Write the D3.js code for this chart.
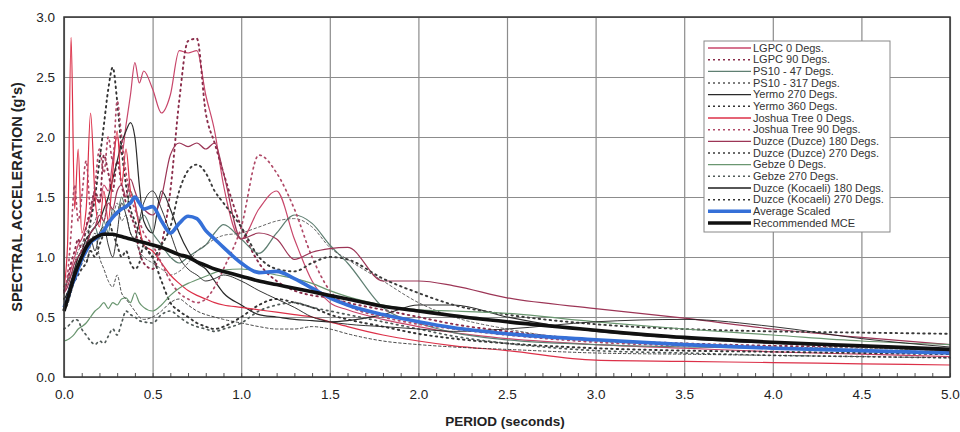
<!DOCTYPE html>
<html>
<head>
<meta charset="utf-8">
<script src="https://cdn.jsdelivr.net/npm/d3@7"></script>
<style>
  body { margin: 0; background: #fff; }
  svg { font-family: "Liberation Sans", Arial, sans-serif; }
</style>
</head>
<body>
<svg id="chart" width="960" height="432"></svg>
<script>
{
  const periods = [0, .02, .04, .06, .08, .1, .125, .15, .175, .2, .225, .25, .275, .3, .325,
    .35, .375, .4, .425, .45, .5, .55, .6, .65, .7, .75, .8, .85, .9, 1.0,
    1.1, 1.2, 1.3, 1.4, 1.5, 1.6, 1.8, 2.0, 2.2, 2.5, 3.0, 3.5, 4.0, 4.5, 5.0];

  const xTicks = [0, 0.5, 1, 1.5, 2, 2.5, 3, 3.5, 4, 4.5, 5];
  const yTicks = [0, 0.5, 1, 1.5, 2, 2.5, 3];

  const lgpc0 = [0.70, 0.80, 0.90, 1.00, 1.10, 1.15, 1.25, 1.35, 1.50, 1.45,
    1.60, 1.55, 1.80, 2.00, 1.85, 2.10, 2.35, 2.62, 2.45, 2.55,
    2.40, 2.20, 2.35, 2.72, 2.70, 2.72, 2.35, 2.05, 1.60, 1.15,
    1.40, 1.55, 1.15, 0.80, 0.62, 0.56, 0.48, 0.42, 0.37, 0.32,
    0.27, 0.24, 0.21, 0.19, 0.17];
  const lgpc90 = [0.72, 0.80, 0.95, 1.05, 1.15, 1.05, 1.25, 1.40, 1.55, 1.45,
    1.85, 1.70, 1.55, 1.80, 1.60, 1.45, 1.35, 1.25, 1.05, 0.95,
    0.90, 1.10, 1.55, 2.30, 2.80, 2.82, 2.20, 1.95, 1.70, 1.25,
    0.95, 0.80, 0.72, 0.68, 0.66, 0.62, 0.56, 0.50, 0.44, 0.38,
    0.31, 0.28, 0.26, 0.25, 0.23];
  const ps10_47 = [0.75, 0.80, 0.85, 0.90, 1.00, 1.05, 1.10, 1.20, 1.25, 1.15,
    1.30, 1.20, 1.40, 1.35, 1.50, 1.40, 1.55, 1.45, 1.30, 1.35,
    1.20, 1.10, 1.00, 0.95, 1.00, 1.05, 1.10, 1.20, 1.27, 1.15,
    1.03, 1.20, 1.35, 1.28, 1.10, 0.95, 0.58, 0.45, 0.37, 0.31,
    0.27, 0.25, 0.24, 0.22, 0.21];
  const ps10_317 = [0.75, 0.80, 0.85, 0.95, 1.05, 1.10, 1.20, 1.25, 1.30, 1.40,
    1.30, 1.50, 1.35, 1.45, 1.30, 1.35, 1.20, 1.15, 1.05, 1.00,
    0.95, 0.90, 0.85, 0.88, 0.95, 1.05, 1.10, 1.15, 1.18, 1.20,
    1.25, 1.30, 1.32, 1.25, 1.08, 0.98, 0.80, 0.62, 0.50, 0.40,
    0.30, 0.27, 0.25, 0.24, 0.22];
  const yermo270 = [0.65, 0.70, 0.80, 0.90, 1.00, 1.05, 1.15, 1.20, 1.25, 1.30,
    1.40, 1.50, 1.65, 1.80, 1.95, 2.05, 2.12, 2.00, 1.60, 1.30,
    1.20, 1.55, 1.40, 1.20, 1.05, 0.95, 0.90, 0.80, 0.70, 0.60,
    0.52, 0.50, 0.48, 0.47, 0.46, 0.47, 0.52, 0.60, 0.60, 0.50,
    0.38, 0.32, 0.28, 0.25, 0.22];
  const yermo360 = [0.60, 0.65, 0.75, 0.80, 0.90, 0.95, 1.10, 1.30, 1.50, 1.80,
    2.10, 2.40, 2.58, 2.30, 1.90, 1.60, 1.40, 1.30, 1.20, 1.10,
    1.00, 0.80, 0.62, 0.55, 0.50, 0.45, 0.42, 0.40, 0.42, 0.50,
    0.60, 0.65, 0.62, 0.58, 0.52, 0.48, 0.42, 0.36, 0.32, 0.28,
    0.24, 0.22, 0.21, 0.20, 0.19];
  const joshua0 = [0.75, 1.10, 2.83, 1.40, 1.90, 1.20, 1.40, 2.20, 1.50, 1.25,
    1.55, 1.30, 1.70, 2.05, 1.60, 1.90, 1.55, 1.45, 1.25, 1.10,
    1.05, 0.95, 0.85, 0.78, 0.72, 0.68, 0.65, 0.62, 0.60, 0.58,
    0.56, 0.54, 0.52, 0.50, 0.46, 0.42, 0.35, 0.30, 0.26, 0.22,
    0.14, 0.13, 0.12, 0.11, 0.10];
  const joshua90 = [0.70, 0.85, 1.20, 1.60, 1.30, 1.50, 1.80, 1.40, 1.60, 1.90,
    1.70, 2.00, 1.80, 2.30, 2.00, 1.70, 1.50, 1.40, 1.30, 1.20,
    1.10, 0.95, 0.80, 0.70, 0.65, 0.62, 0.65, 0.75, 0.90, 1.25,
    1.85, 1.70, 1.40, 1.00, 0.72, 0.60, 0.50, 0.44, 0.40, 0.35,
    0.29, 0.26, 0.24, 0.22, 0.21];
  const duzce180 = [0.70, 0.75, 0.85, 0.95, 1.00, 1.05, 1.10, 1.20, 1.25, 1.35,
    1.30, 1.45, 1.40, 1.55, 1.60, 1.50, 1.65, 1.55, 1.45, 1.40,
    1.35, 1.50, 1.85, 1.95, 1.92, 1.95, 1.90, 1.95, 1.70, 1.15,
    1.20, 1.15, 0.98, 1.04, 1.07, 1.08, 0.80, 0.80, 0.76, 0.66,
    0.57, 0.49, 0.40, 0.33, 0.27];
  const duzce270 = [0.65, 0.70, 0.75, 0.80, 0.85, 0.90, 0.95, 1.05, 1.00, 1.10,
    1.20, 1.30, 1.20, 1.10, 1.00, 1.05, 0.95, 0.90, 0.95, 1.10,
    1.00, 1.10, 1.25, 1.55, 1.72, 1.77, 1.70, 1.55, 1.45, 1.25,
    1.00, 0.90, 0.88, 0.95, 1.00, 0.98, 0.82, 0.70, 0.60, 0.52,
    0.44, 0.40, 0.38, 0.37, 0.36];
  const gebze0 = [0.30, 0.31, 0.33, 0.36, 0.40, 0.42, 0.45, 0.50, 0.55, 0.58,
    0.62, 0.57, 0.62, 0.60, 0.65, 0.66, 0.62, 0.70, 0.62, 0.58,
    0.55, 0.60, 0.68, 0.74, 0.78, 0.81, 0.84, 0.87, 0.89, 0.90,
    0.88, 0.85, 0.82, 0.78, 0.72, 0.67, 0.60, 0.56, 0.55, 0.53,
    0.46, 0.40, 0.35, 0.30, 0.27];
  const gebze270 = [0.40, 0.42, 0.45, 0.48, 0.47, 0.40, 0.35, 0.30, 0.27, 0.30,
    0.28, 0.34, 0.40, 0.35, 0.45, 0.55, 0.52, 0.50, 0.47, 0.46,
    0.45, 0.52, 0.55, 0.50, 0.45, 0.42, 0.40, 0.38, 0.40, 0.45,
    0.55, 0.60, 0.62, 0.58, 0.55, 0.52, 0.46, 0.40, 0.34, 0.28,
    0.22, 0.20, 0.18, 0.17, 0.16];
  const kocaeli180 = [0.65, 0.70, 0.80, 0.85, 0.90, 1.00, 1.10, 1.15, 1.05, 1.20,
    1.25, 1.10, 1.00, 1.20, 1.45, 1.35, 1.20, 1.15, 1.30, 1.45,
    1.55, 1.40, 1.20, 1.00, 0.90, 0.85, 0.80, 0.82, 0.85, 0.80,
    0.72, 0.65, 0.58, 0.50, 0.46, 0.44, 0.42, 0.40, 0.38, 0.40,
    0.46, 0.48, 0.42, 0.32, 0.25];
  const kocaeli270 = [0.55, 0.60, 0.70, 0.80, 0.90, 1.00, 0.95, 1.10, 1.20, 1.00,
    0.90, 0.80, 0.75, 0.85, 0.70, 0.65, 0.60, 0.55, 0.50, 0.48,
    0.50, 0.55, 0.62, 0.65, 0.60, 0.55, 0.52, 0.50, 0.48, 0.45,
    0.42, 0.40, 0.40, 0.42, 0.40, 0.36, 0.30, 0.27, 0.25, 0.23,
    0.20, 0.19, 0.18, 0.17, 0.16];
  const averageScaled = [0.58, 0.65, 0.75, 0.82, 0.90, 0.98, 1.05, 1.12, 1.15, 1.18,
    1.22, 1.28, 1.33, 1.37, 1.40, 1.42, 1.45, 1.50, 1.45, 1.40,
    1.42, 1.30, 1.20, 1.28, 1.34, 1.32, 1.22, 1.15, 1.08, 0.95,
    0.87, 0.88, 0.82, 0.74, 0.66, 0.60, 0.52, 0.46, 0.41, 0.36,
    0.31, 0.27, 0.24, 0.22, 0.20];
  const recommendedMCE = [0.55, 0.65, 0.75, 0.85, 0.93, 1.00, 1.08, 1.13, 1.16, 1.18,
    1.19, 1.19, 1.19, 1.18, 1.17, 1.16, 1.15, 1.14, 1.13, 1.12,
    1.10, 1.08, 1.05, 1.02, 1.00, 0.96, 0.93, 0.90, 0.88, 0.84,
    0.80, 0.77, 0.74, 0.71, 0.68, 0.65, 0.59, 0.55, 0.51, 0.46,
    0.39, 0.33, 0.29, 0.26, 0.23];

  // name, values, colour, dash, width
  const series = [
    ['LGPC 0 Degs.', lgpc0, '#c8466a', null, 1.2],
    ['LGPC 90 Degs.', lgpc90, '#8a2c4a', '1.5,4', 1.9],
    ['PS10 - 47 Degs.', ps10_47, '#5f7f72', null, 1.2],
    ['PS10 - 317 Degs.', ps10_317, '#555', '2.5,2.5', 0.9],
    ['Yermo 270 Degs.', yermo270, '#2a2a2a', null, 1.2],
    ['Yermo 360 Degs.', yermo360, '#333', '1.5,4', 1.9],
    ['Joshua Tree 0 Degs.', joshua0, '#dc3048', null, 1.2],
    ['Joshua Tree 90 Degs.', joshua90, '#b04a68', '1.5,4', 1.7],
    ['Duzce (Duzce) 180 Degs.', duzce180, '#9c3556', null, 1.2],
    ['Duzce (Duzce) 270 Degs.', duzce270, '#3a3a3a', '1.5,4', 1.9],
    ['Gebze 0 Degs.', gebze0, '#6a9670', null, 1.2],
    ['Gebze 270 Degs.', gebze270, '#505a58', '1.5,4', 1.7],
    ['Duzce (Kocaeli) 180 Degs.', kocaeli180, '#1e1e1e', null, 0.9],
    ['Duzce (Kocaeli) 270 Degs.', kocaeli270, '#333', '2.5,2.5', 0.9],
    ['Average Scaled', averageScaled, '#3570d8', null, 3.6],
    ['Recommended MCE', recommendedMCE, '#111', null, 3.6]
  ];

  const svg = d3.select('#chart');
  const left = 64, right = 950, top = 17, bottom = 377;

  const x = d3.scaleLinear().domain([0, 5]).range([left, right]);
  const y = d3.scaleLinear().domain([0, 3]).range([bottom, top]);

  svg.append('rect').attr('width', 960).attr('height', 432).attr('fill', '#fff');

  // grid
  svg.append('g')
    .attr('transform', `translate(0,${bottom})`)
    .call(d3.axisBottom(x).tickValues(xTicks).tickSize(-(bottom - top)).tickFormat(''))
    .call(g => g.select('.domain').remove())
    .selectAll('line').attr('stroke', '#8c8c8c').attr('stroke-width', 1.2);
  svg.append('g')
    .attr('transform', `translate(${left},0)`)
    .call(d3.axisLeft(y).tickValues(yTicks).tickSize(-(right - left)).tickFormat(''))
    .call(g => g.select('.domain').remove())
    .selectAll('line').attr('stroke', '#8c8c8c').attr('stroke-width', 1.2);

  // minor ticks along the bottom
  svg.append('g')
    .attr('transform', `translate(0,${bottom})`)
    .call(d3.axisBottom(x).tickValues(d3.range(0, 5.01, 0.1)).tickSize(-4).tickFormat(''))
    .call(g => g.select('.domain').remove())
    .selectAll('line').attr('stroke', '#555');

  const line = d3.line()
    .x((d, i) => x(periods[i]))
    .y(d => y(d))
    .curve(d3.curveMonotoneX);

  const plot = svg.append('g');
  series.forEach(([name, values, color, dash, width]) => {
    plot.append('path')
      .attr('d', line(values))
      .attr('fill', 'none')
      .attr('stroke', color)
      .attr('stroke-width', width)
      .attr('stroke-linecap', dash ? 'round' : 'butt')
      .attr('stroke-linejoin', 'round')
      .attr('stroke-dasharray', dash);
  });

  // frame
  svg.append('rect')
    .attr('x', left).attr('y', top)
    .attr('width', right - left).attr('height', bottom - top)
    .attr('fill', 'none').attr('stroke', '#333').attr('stroke-width', 1.5);

  // tick labels
  svg.append('g')
    .attr('transform', `translate(0,${bottom})`)
    .call(d3.axisBottom(x).tickValues(xTicks).tickSize(0).tickPadding(12).tickFormat(d3.format('.1f')))
    .call(g => g.select('.domain').remove())
    .selectAll('text').attr('font-size', 13.5).attr('fill', '#222')
    .attr('font-family', '"Liberation Sans Narrow", "Liberation Sans", Arial, sans-serif');
  svg.append('g')
    .attr('transform', `translate(${left},0)`)
    .call(d3.axisLeft(y).tickValues(yTicks).tickSize(0).tickPadding(9).tickFormat(d3.format('.1f')))
    .call(g => g.select('.domain').remove())
    .selectAll('text').attr('font-size', 13.5).attr('fill', '#222');

  svg.append('text')
    .attr('x', 505).attr('y', 426)
    .attr('text-anchor', 'middle')
    .attr('font-size', 13.5).attr('font-weight', 'bold').attr('fill', '#222')
    .text('PERIOD (seconds)');

  svg.append('text')
    .attr('transform', `translate(22,${(top + bottom) / 2}) rotate(-90)`)
    .attr('text-anchor', 'middle')
    .attr('font-size', 14.5).attr('font-weight', 'bold').attr('fill', '#222')
    .text("SPECTRAL ACCELERATION (g's)");

  // legend
  const legend = svg.append('g');
  legend.append('rect')
    .attr('x', 704).attr('y', 41).attr('width', 186).attr('height', 191)
    .attr('fill', '#fff').attr('stroke', '#888').attr('stroke-width', 1);

  const rowY = d3.scaleLinear().domain([0, series.length - 1]).range([48, 223]);
  series.forEach(([name, values, color, dash, width], i) => {
    const yy = rowY(i);
    legend.append('line')
      .attr('x1', 708).attr('x2', 751).attr('y1', yy).attr('y2', yy)
      .attr('stroke', color)
      .attr('stroke-width', width > 3 ? 3.5 : (dash ? 1.5 : 1.4))
      .attr('stroke-dasharray', dash ? '2,3' : null);
    legend.append('text')
      .attr('x', 753).attr('y', yy + 3.8)
      .attr('font-size', 11).attr('fill', '#333')
      .text(name);
  });
}
</script>
</body>
</html>
